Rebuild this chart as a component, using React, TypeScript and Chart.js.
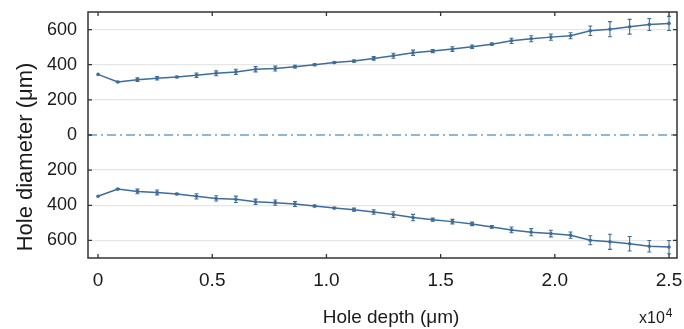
import React, { useEffect, useRef } from "react";
import { Chart, registerables } from "chart.js";

Chart.register(...registerables);

const depth = [0, 862, 1724, 2586, 3448, 4310, 5172, 6034, 6897, 7759, 8621, 9483, 10345, 11207, 12069, 12931, 13793, 14655, 15517, 16379, 17241, 18103, 18966, 19828, 20690, 21552, 22414, 23276, 24138, 25000];
const upperDiameter = [345, 302, 315, 323, 330, 340, 351, 359, 374, 378, 389, 400, 412, 421, 436, 451, 468, 478, 489, 502, 517, 536, 548, 557, 565, 593, 602, 616, 629, 635];
const upperError = [0, 3, 10, 10, 4, 13, 14, 15, 15, 14, 8, 5, 4, 6, 10, 14, 15, 9, 13, 10, 6, 15, 17, 18, 17, 27, 43, 42, 34, 40];
const lowerDiameter = [-349, -308, -321, -327, -336, -349, -361, -366, -380, -385, -393, -404, -416, -425, -438, -453, -470, -482, -493, -506, -523, -540, -553, -561, -570, -599, -608, -619, -633, -638];
const lowerError = [0, 3, 13, 14, 4, 15, 15, 18, 15, 15, 14, 6, 4, 9, 13, 16, 18, 9, 13, 10, 8, 16, 20, 19, 18, 26, 43, 41, 33, 38];

const xTicks = [0, 5000, 10000, 15000, 20000, 25000];
const xTickLabels = ["0", "0.5", "1.0", "1.5", "2.0", "2.5"];
const yTicks = [-600, -400, -200, 0, 200, 400, 600];
const yTickLabels = ["600", "400", "200", "0", "200", "400", "600"];

const xTitle = "Hole depth (\u03bcm)";
const yTitle = "Hole diameter (\u03bcm)";
const xExponentBase = "x10";
const xExponent = "4";

const LINE = "#3d6d9c";
const FONT = "'Liberation Sans', Arial, sans-serif";

const errors = [upperError, lowerError];

const decorPlugin = {
  id: "decor",
  beforeDatasetsDraw(chart: any) {
    const { ctx, chartArea, scales } = chart;
    const y0 = scales.y.getPixelForValue(0);
    ctx.save();
    ctx.strokeStyle = "#6aa0d2";
    ctx.lineWidth = 1.3;
    ctx.setLineDash([9, 4, 2, 4]);
    ctx.beginPath();
    ctx.moveTo(chartArea.left, y0);
    ctx.lineTo(chartArea.right, y0);
    ctx.stroke();
    ctx.restore();
  },
  afterDatasetsDraw(chart: any) {
    const { ctx, chartArea, scales } = chart;
    const { left, right, top, bottom } = chartArea;
    ctx.save();
    ctx.strokeStyle = LINE;
    ctx.lineWidth = 1.1;
    chart.data.datasets.forEach((ds: any, di: number) => {
      const errs = errors[di];
      ds.data.forEach((p: any, i: number) => {
        const e = errs[i];
        if (!e) return;
        const px = scales.x.getPixelForValue(p.x);
        const pyTop = scales.y.getPixelForValue(p.y + e);
        const pyBot = scales.y.getPixelForValue(p.y - e);
        ctx.beginPath();
        ctx.moveTo(px, pyTop);
        ctx.lineTo(px, pyBot);
        ctx.moveTo(px - 2, pyTop);
        ctx.lineTo(px + 2, pyTop);
        ctx.moveTo(px - 2, pyBot);
        ctx.lineTo(px + 2, pyBot);
        ctx.stroke();
      });
    });
    ctx.restore();

    ctx.save();
    ctx.strokeStyle = "#333333";
    ctx.lineWidth = 1.5;
    ctx.strokeRect(left, top, right - left, bottom - top);
    ctx.lineWidth = 1.3;
    ctx.beginPath();
    xTicks.forEach((v) => {
      const px = scales.x.getPixelForValue(v);
      ctx.moveTo(px, top);
      ctx.lineTo(px, top + 4);
      ctx.moveTo(px, bottom);
      ctx.lineTo(px, bottom - 4);
    });
    yTicks.forEach((v) => {
      const py = scales.y.getPixelForValue(v);
      ctx.moveTo(left, py);
      ctx.lineTo(left + 4, py);
      ctx.moveTo(right, py);
      ctx.lineTo(right - 4, py);
    });
    ctx.stroke();
    ctx.restore();
  },
  afterDraw(chart: any) {
    const { ctx } = chart;
    ctx.save();
    ctx.fillStyle = "#1a1a1a";
    ctx.textBaseline = "alphabetic";
    ctx.font = `19px ${FONT}`;
    ctx.textAlign = "center";
    ctx.fillText(xTitle, 391, 323);
    ctx.font = `16px ${FONT}`;
    ctx.textAlign = "left";
    ctx.fillText(xExponentBase, 639, 323);
    const w = ctx.measureText(xExponentBase).width;
    ctx.font = `12px ${FONT}`;
    ctx.fillText(xExponent, 639 + w + 1, 317);
    ctx.translate(32, 157);
    ctx.rotate(-Math.PI / 2);
    ctx.font = `22px ${FONT}`;
    ctx.textAlign = "center";
    ctx.fillText(yTitle, 0, 0);
    ctx.restore();
  },
};

export default function App() {
  const ref = useRef<HTMLCanvasElement | null>(null);
  useEffect(() => {
    document.body.style.margin = "0";
    const canvas = ref.current;
    if (!canvas) return;
    const chart = new Chart(canvas, {
      type: "line",
      data: {
        datasets: [
          {
            data: depth.map((x, i) => ({ x, y: upperDiameter[i] })),
            borderColor: LINE,
            backgroundColor: LINE,
            borderWidth: 1.5,
            pointRadius: 1.8,
            pointBorderWidth: 0,
            pointBackgroundColor: LINE,
            tension: 0,
          },
          {
            data: depth.map((x, i) => ({ x, y: lowerDiameter[i] })),
            borderColor: LINE,
            backgroundColor: LINE,
            borderWidth: 1.5,
            pointRadius: 1.8,
            pointBorderWidth: 0,
            pointBackgroundColor: LINE,
            tension: 0,
          },
        ],
      },
      options: {
        animation: false,
        responsive: false,
        events: [],
        layout: { padding: { top: 12, right: 7, left: 0, bottom: 0 } },
        plugins: { legend: { display: false }, tooltip: { enabled: false } },
        scales: {
          x: {
            type: "linear",
            min: -440,
            max: 25350,
            afterBuildTicks: (s: any) => {
              s.ticks = xTicks.map((v) => ({ value: v }));
            },
            afterFit: (s: any) => {
              s.height = 71;
              s.paddingLeft = 0;
              s.paddingRight = 0;
              s.paddingTop = 0;
              s.paddingBottom = 0;
            },
            grid: { display: false, drawTicks: false },
            border: { display: false },
            ticks: {
              padding: 11,
              color: "#1a1a1a",
              font: { family: FONT, size: 19 },
              maxRotation: 0,
              autoSkip: false,
              callback: (v: any) => {
                const idx = xTicks.indexOf(Number(v));
                return idx >= 0 ? xTickLabels[idx] : "";
              },
            },
          },
          y: {
            type: "linear",
            min: -700,
            max: 700,
            afterBuildTicks: (s: any) => {
              s.ticks = yTicks.map((v) => ({ value: v }));
            },
            afterFit: (s: any) => {
              s.width = 88;
              s.paddingLeft = 0;
              s.paddingRight = 0;
              s.paddingTop = 0;
              s.paddingBottom = 0;
            },
            grid: {
              drawTicks: false,
              lineWidth: 1.3,
              color: (c: any) => (c.tick && c.tick.value === 0 ? "rgba(0,0,0,0)" : "#e6e6e6"),
            },
            border: { display: false },
            ticks: {
              padding: 11,
              color: "#1a1a1a",
              font: { family: FONT, size: 18 },
              autoSkip: false,
              callback: (v: any) => {
                const idx = yTicks.indexOf(Number(v));
                return idx >= 0 ? yTickLabels[idx] : "";
              },
            },
          },
        },
      },
      plugins: [decorPlugin],
    } as any);
    return () => chart.destroy();
  }, []);
  return (
    <div style={{ position: "absolute", left: 0, top: 0, width: 684, height: 329, background: "#fff" }}>
      <canvas ref={ref} width={684} height={329} style={{ display: "block", width: 684, height: 329 }} />
    </div>
  );
}
